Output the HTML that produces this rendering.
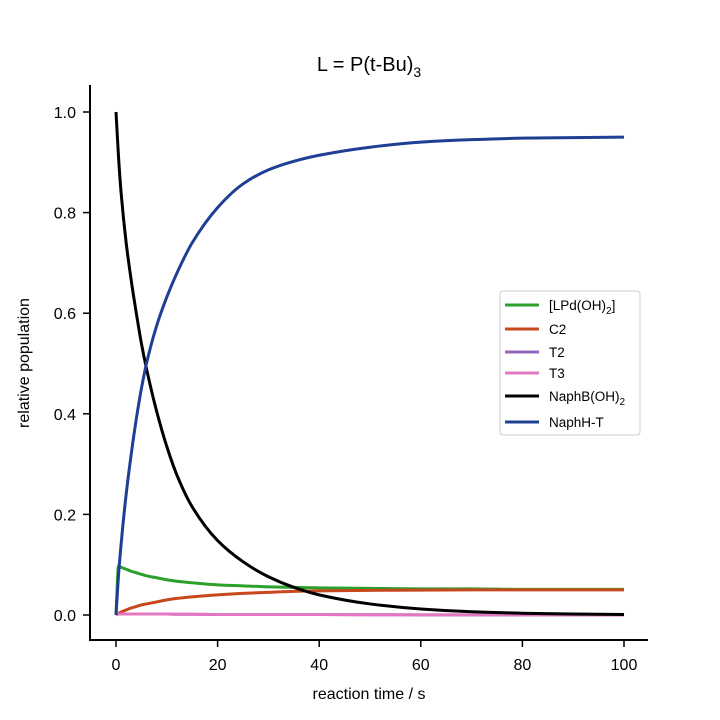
<!DOCTYPE html>
<html><head><meta charset="utf-8"><style>
html,body{margin:0;padding:0;background:#fff;}
svg{display:block;font-family:"Liberation Sans",Arial,sans-serif;}
</style></head><body>
<svg id="chart" width="720" height="720" viewBox="0 0 720 720">
<text x="369" y="71" font-size="20" text-anchor="middle">L = P(t-Bu)<tspan font-size="14" dy="6">3</tspan></text>
<g id="plot"></g>
<g id="axes"></g>
<text x="369" y="699" font-size="16" text-anchor="middle">reaction time / s</text>
<text transform="translate(29,363) rotate(-90)" font-size="16" text-anchor="middle">relative population</text>
<g>
<rect x="500" y="291" width="140" height="144" rx="3" fill="#fff" stroke="#ccc" stroke-width="1"/>
<g id="legend-items"></g>
</g>
</svg>
<script>
const times=[0,0.5,1,2,3,4,5,6,8,10,12,15,20,25,30,35,40,50,60,70,80,90,100];
const naphB=[1,0.91,0.84,0.74,0.665,0.6,0.54,0.49,0.405,0.335,0.278,0.215,0.148,0.106,0.076,0.055,0.04,0.022,0.012,0.0065,0.0035,0.002,0.001];
const naphH=[0,0.08,0.14,0.24,0.32,0.39,0.45,0.5,0.575,0.632,0.68,0.74,0.81,0.857,0.885,0.902,0.914,0.93,0.94,0.945,0.948,0.949,0.95];
const lpd=[0,0.097,0.095,0.091,0.087,0.084,0.081,0.078,0.074,0.07,0.067,0.064,0.06,0.058,0.056,0.055,0.054,0.053,0.052,0.052,0.051,0.051,0.051];
const c2=[0,0.003,0.006,0.01,0.014,0.017,0.02,0.022,0.026,0.03,0.033,0.036,0.04,0.043,0.045,0.047,0.048,0.049,0.0495,0.05,0.05,0.05,0.05];
const t2=[0,0.002,0.002,0.002,0.002,0.002,0.002,0.002,0.002,0.002,0.0015,0.0015,0.001,0.001,0.001,0.001,0.001,0.0005,0.0003,0.0002,0.0001,0,0];
const t3=[0,0.002,0.002,0.002,0.002,0.002,0.002,0.002,0.002,0.002,0.0015,0.0015,0.001,0.001,0.001,0.001,0.001,0.0005,0.0003,0.0002,0.0001,0,0];
const xTicks=[0,20,40,60,80,100];
const yTicks=[0,0.2,0.4,0.6,0.8,1.0];
const seriesNames=["[LPd(OH)2]","C2","T2","T3","NaphB(OH)2","NaphH-T"];
const seriesColors=["#2ca02c","#c8481e","#9467bd","#e377c2","#000000","#1f3f94"];
const seriesData=[lpd,c2,t2,t3,naphB,naphH];
const legendRowsY=[305,329,352,373,396,422];
const NS="http://www.w3.org/2000/svg";
const X=v=>116+v*5.08, Y=v=>615-v*503;
const plot=document.getElementById('plot'), axes=document.getElementById('axes'), leg=document.getElementById('legend-items');
function mk(tag,attrs,parent){const e=document.createElementNS(NS,tag);for(const k in attrs)e.setAttribute(k,attrs[k]);parent.appendChild(e);return e;}
function smooth(pts){
  const n=pts.length;const dx=[],m=[],s=[];
  for(let i=0;i<n-1;i++){dx[i]=pts[i+1][0]-pts[i][0];s[i]=(pts[i+1][1]-pts[i][1])/dx[i];}
  m[0]=s[0];m[n-1]=s[n-2];
  for(let i=1;i<n-1;i++){m[i]=(s[i-1]*s[i]<=0)?0:(dx[i-1]+dx[i])*3/((2*dx[i]+dx[i-1])/s[i-1]+(dx[i]+2*dx[i-1])/s[i]);}
  let d='M'+pts[0][0].toFixed(2)+','+pts[0][1].toFixed(2);
  for(let i=0;i<n-1;i++){const h=dx[i]/3;
    d+='C'+(pts[i][0]+h).toFixed(2)+','+(pts[i][1]+m[i]*h).toFixed(2)+' '+(pts[i+1][0]-h).toFixed(2)+','+(pts[i+1][1]-m[i+1]*h).toFixed(2)+' '+pts[i+1][0].toFixed(2)+','+pts[i+1][1].toFixed(2);}
  return d;
}
seriesData.forEach((d,i)=>{
  const pts=d.map((v,j)=>[X(times[j]),Y(v)]);
  const p=mk('path',{d:smooth(pts),fill:'none',stroke:seriesColors[i],'stroke-width':3,'stroke-linejoin':'round'},plot);
  
  
  const ly=legendRowsY[i];
  const ls=mk('line',{x1:505,x2:539,y1:ly,y2:ly,stroke:seriesColors[i],'stroke-width':3},leg);
  
  
  const t=mk('text',{x:549,y:ly+5,'font-size':13.5},leg);
  
  
  if(i==0||i==4){const base=i==0?'[LPd(OH)':'NaphB(OH)';t.textContent=base;const s=mk('tspan',{'font-size':10,dy:4},t);s.textContent='2';if(i==0){const s2=mk('tspan',{dy:-4},t);s2.textContent=']';}}
  else t.textContent=seriesNames[i];
});
const sp1=mk('line',{x1:90,x2:90,y1:85,y2:641,stroke:'#000','stroke-width':2},axes);


const sp2=mk('line',{x1:89,x2:648,y1:640,y2:640,stroke:'#000','stroke-width':2},axes);


xTicks.forEach(v=>{
  const l=mk('line',{x1:X(v),x2:X(v),y1:640,y2:647,stroke:'#000','stroke-width':1.5},axes);
  
  
  const t=mk('text',{x:X(v),y:670,'font-size':16,'text-anchor':'middle'},axes);
  t.textContent=v;
  
  
});
yTicks.forEach(v=>{
  const l=mk('line',{x1:83,x2:90,y1:Y(v),y2:Y(v),stroke:'#000','stroke-width':1.5},axes);
  
  
  const t=mk('text',{x:76,y:Y(v)+6,'font-size':16,'text-anchor':'end'},axes);
  t.textContent=v.toFixed(1);
  
  
});
</script>
</body></html>
